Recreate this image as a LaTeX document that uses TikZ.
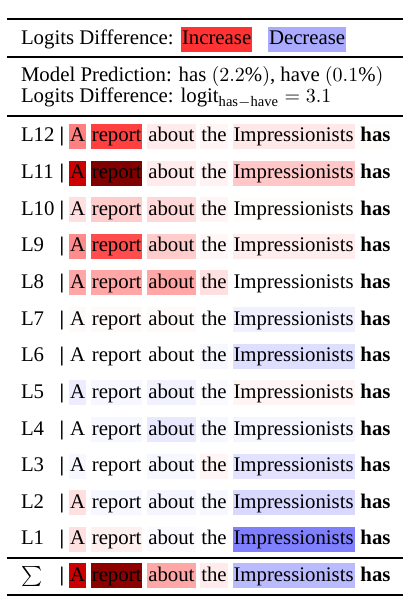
\documentclass[tikz,border=0pt]{standalone}
\usepackage{amsmath}
\usepackage{fontspec}
\setmainfont{Liberation Serif}
\usetikzlibrary{positioning}
\definecolor{incr}{HTML}{FF3333}
\definecolor{decr}{HTML}{AAAAFF}
\tikzset{tok/.style={fill=white,inner xsep=0.5pt,inner ysep=0pt,outer sep=0pt,text height=9pt,text depth=3.5pt},
  plain/.style={inner sep=0pt,outer sep=0pt}}
% one row of the table: name, label, baseline, six word colours
\newcommand{\tokrow}[9]{%
  \node[plain,anchor=base west] (#1-lab) at (21,#3) {#2};
  \node[plain,anchor=base,font=\fontsize{10.4}{12}\selectfont\bfseries] (#1-bar) at (62,#3) {|};
  \node[tok,fill=#4,anchor=base west] (#1-a) at (69,#3) {A};
  \node[tok,fill=#5,right=of #1-a] (#1-report) {report};
  \node[tok,fill=#6,right=of #1-report] (#1-about) {about};
  \node[tok,fill=#7,right=of #1-about] (#1-the) {the};
  \node[tok,fill=#8,right=of #1-the] (#1-impr) {Impressionists};
  \node[tok,fill=#9,right=of #1-impr] (#1-has) {\textbf{has}};
}

\begin{document}
\begin{tikzpicture}[x=0.5pt,y=-0.5pt,node distance=2.4pt, every node/.style={font=\fontsize{10.4}{12.5}\selectfont}]
    \useasboundingbox (0,0) rectangle (415,608);
    \draw[line width=1pt] (7,19) -- (403,19);
    \node[plain,anchor=base west] (legend) at (21,45) {Logits Difference:};
    \node[tok,fill=incr,anchor=base west] (inc) at (181,45) {Increase};
    \node[tok,fill=decr,anchor=base west] (dec) at (268,45) {Decrease};
    \draw[line width=0.6pt] (7,57) -- (403,57);
    \node[plain,anchor=base west] (pred) at (21,82) {Model Prediction: has $(2.2\%)$, have $(0.1\%)$};
    \node[plain,anchor=base west] (diff) at (21,103) {Logits Difference: logit$_{\text{has}-\text{have}}=3.1$};
    \draw[line width=0.6pt] (7,116) -- (403,116);
    \tokrow{l12}{L12}{142}{red!50}{red!75}{red!8}{red!4}{red!9}{red!1}
    \tokrow{l11}{L11}{178.6}{red!80!black}{red!50!black}{red!8}{red!5}{red!22}{white}
    \tokrow{l10}{L10}{215.2}{red!12}{red!20}{red!15}{red!4}{red!1}{white}
    \tokrow{l9}{L9}{251.9}{red!45}{red!70}{red!20}{red!3}{red!7}{white}
    \tokrow{l8}{L8}{288.5}{red!35}{red!35}{red!35}{red!12}{white}{white}
    \tokrow{l7}{L7}{325.1}{red!2}{red!2}{red!2}{white}{blue!6}{white}
    \tokrow{l6}{L6}{361.7}{white}{white}{white}{blue!3}{blue!13}{white}
    \tokrow{l5}{L5}{398.3}{blue!7}{blue!3}{blue!5}{blue!2}{red!4}{white}
    \tokrow{l4}{L4}{435}{white}{blue!3}{blue!9}{blue!3}{blue!4}{white}
    \tokrow{l3}{L3}{471.6}{blue!3}{white}{blue!3}{red!4}{blue!11}{white}
    \tokrow{l2}{L2}{508.2}{red!12}{blue!3}{blue!4}{blue!3}{blue!15}{white}
    \tokrow{l1}{L1}{544.8}{red!12}{red!6}{blue!2}{white}{blue!50}{white}
    \draw[line width=0.6pt] (7,558) -- (403,558);
    \tokrow{sum}{$\sum$}{581.4}{red!80!black}{red!55!black}{red!35}{red!8}{blue!27}{white}
    \draw[line width=1pt] (7,595) -- (403,595);
  \end{tikzpicture}
\end{document}
